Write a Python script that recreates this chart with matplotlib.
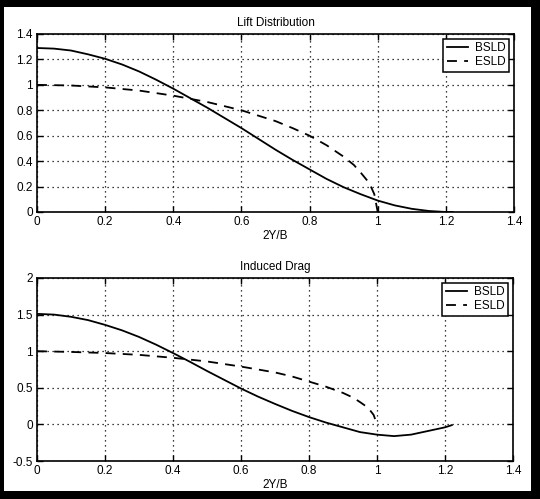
import matplotlib
matplotlib.use("Agg")
import matplotlib.pyplot as plt
from matplotlib.patches import Rectangle

plt.rcParams['font.family'] = ['Liberation Sans', 'DejaVu Sans']

# ---- data ----
x_bsld = [0.0, 0.05, 0.10, 0.15, 0.20, 0.25, 0.30, 0.35, 0.40, 0.45, 0.50, 0.55,
          0.60, 0.65, 0.70, 0.75, 0.80, 0.85, 0.90, 0.95, 1.00, 1.05, 1.10, 1.15,
          1.20, 1.22]
lift_bsld = [1.29, 1.285, 1.27, 1.24, 1.205, 1.16, 1.105, 1.04, 0.97, 0.895, 0.82, 0.74,
             0.66, 0.575, 0.49, 0.41, 0.335, 0.26, 0.195, 0.14, 0.09, 0.052, 0.025, 0.008,
             0.0, 0.0]
drag_bsld = [1.51, 1.50, 1.47, 1.425, 1.36, 1.285, 1.195, 1.09, 0.975, 0.855, 0.73, 0.61,
             0.49, 0.38, 0.28, 0.185, 0.10, 0.025, -0.04, -0.105, -0.14, -0.16, -0.14, -0.09,
             -0.04, -0.01]

x_esld = [0.0, 0.10, 0.20, 0.30, 0.40, 0.50, 0.60, 0.70, 0.75, 0.80, 0.85, 0.90,
          0.93, 0.95, 0.97, 0.98, 0.99, 1.00]
lift_esld = [1.0, 0.995, 0.98, 0.955, 0.915, 0.865, 0.80, 0.715, 0.66, 0.60, 0.525, 0.435,
             0.37, 0.31, 0.245, 0.20, 0.14, 0.0]
drag_esld = [1.0, 0.99, 0.975, 0.95, 0.91, 0.86, 0.79, 0.71, 0.655, 0.585, 0.515, 0.43,
             0.365, 0.305, 0.24, 0.19, 0.13, 0.0]

x_ticks = [0, 0.2, 0.4, 0.6, 0.8, 1.0, 1.2, 1.4]
x_ticklabels = ['0', '0.2', '0.4', '0.6', '0.8', '1', '1.2', '1.4']
lift_yticks = [0, 0.2, 0.4, 0.6, 0.8, 1.0, 1.2, 1.4]
lift_yticklabels = ['0', '0.2', '0.4', '0.6', '0.8', '1', '1.2', '1.4']
drag_yticks = [-0.5, 0, 0.5, 1.0, 1.5, 2.0]
drag_yticklabels = ['-0.5', '0', '0.5', '1', '1.5', '2']

W, H = 540, 499
FS = 8.5
fig = plt.figure(figsize=(W / 100, H / 100), dpi=100, facecolor='black')
bg = Rectangle((4 / W, (H - 491) / H), (531 - 4) / W, (491 - 7) / H,
               transform=fig.transFigure, facecolor='white',
               edgecolor='none', zorder=-10)
fig.add_artist(bg)


def make_axes(rect, title, yb, yl, ylim, x_a, y_a, x_b, y_b):
    ax = fig.add_axes(rect)
    ax.set_zorder(1)
    ax.plot(x_a, y_a, color='black', lw=1.3, ls='-', label='BSLD')
    ax.plot(x_b, y_b, color='black', lw=1.3, ls=(0, (5.5, 4)), label='ESLD')
    ax.set_xlim(0, 1.4)
    ax.set_ylim(*ylim)
    ax.set_xticks(x_ticks)
    ax.set_xticklabels(x_ticklabels)
    ax.set_yticks(yb)
    ax.set_yticklabels(yl)
    ax.grid(True, color='black', ls=(0, (1, 3)), lw=0.9)
    ax.tick_params(direction='in', length=4, width=1, top=True, right=True,
                   labelsize=FS, pad=3, colors='black')
    for s in ax.spines.values():
        s.set_linewidth(1.2)
        s.set_color('black')
    ax.set_title(title, fontsize=FS, pad=6)
    ax.set_xlabel('2Y/B', fontsize=FS, labelpad=1)
    leg = ax.legend(loc='upper right', fancybox=False, framealpha=1,
                    edgecolor='black', fontsize=FS, handlelength=1.8,
                    borderaxespad=0.4, borderpad=0.3, labelspacing=0.15,
                    handletextpad=0.6)
    leg.get_frame().set_linewidth(1.1)
    return ax


make_axes([37 / W, (H - 212) / H, 477 / W, 178 / H], 'Lift Distribution',
          lift_yticks, lift_yticklabels, (0, 1.4), x_bsld, lift_bsld, x_esld, lift_esld)
make_axes([37 / W, (H - 461) / H, 476 / W, 183 / H], 'Induced Drag',
          drag_yticks, drag_yticklabels, (-0.5, 2.0), x_bsld, drag_bsld, x_esld, drag_esld)

fig.savefig('out.png', dpi=100, facecolor='black')
